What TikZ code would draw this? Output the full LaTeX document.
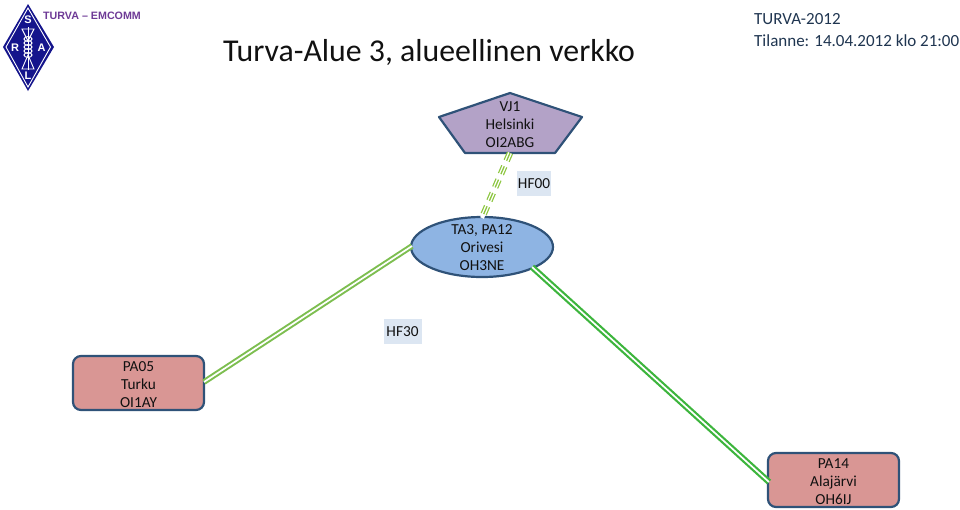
\documentclass[tikz,border=0pt]{standalone}
\usepackage{fontspec}
\setmainfont{Carlito}
\newfontfamily\logofont{Liberation Sans}
\usetikzlibrary{shapes.geometric,calc}
\definecolor{edgeblue}{HTML}{2F5278}
\definecolor{penta}{HTML}{B3A2C7}
\definecolor{ellfill}{HTML}{8EB4E3}
\definecolor{boxfill}{HTML}{D99694}
\definecolor{labelbg}{HTML}{DCE6F2}
\definecolor{linkA}{HTML}{8CC63F}
\definecolor{linkB}{HTML}{7DBE50}
\definecolor{linkC}{HTML}{3DB53D}
\definecolor{logoblue}{HTML}{14148C}
\definecolor{logotext}{HTML}{6E3A96}
\definecolor{txt}{HTML}{111111}
\definecolor{headtxt}{HTML}{1F3550}
\tikzset{
  x=1pt,y=-1pt,
  shapetext/.style={align=center,font=\fontsize{15.3}{18}\selectfont,text=txt,inner sep=0pt},
  outline/.style={draw=edgeblue,line width=2.2pt},
  sitebox/.style={outline,fill=boxfill,rounded corners=8pt,minimum width=131pt,minimum height=54pt},
  freq/.style={fill=labelbg,text height=11pt,text depth=1pt,font=\fontsize{15.3}{18}\selectfont,text=txt,inner sep=0pt,minimum height=25pt},
  logoletter/.style={font=\logofont\bfseries\fontsize{11}{11}\selectfont,text=white,inner sep=0pt},
}
\begin{document}
\begin{tikzpicture}
\useasboundingbox (0,0) rectangle (960,509);
% logo
\coordinate (lt) at (28,4);
\coordinate (lr) at (54,47);
\coordinate (lb) at (28,91);
\coordinate (ll) at (3,47);
\fill[logoblue] (lt) -- (lr) -- (lb) -- (ll) -- cycle;
\draw[white,line width=0.9pt] (28,8) -- (50.5,47) -- (28,87) -- (6,47) -- cycle;
\draw[white,line width=0.9pt] (22,29) -- (34,29) -- (28,41) -- cycle;
\draw[white,line width=0.9pt] (22,69) -- (34,69) -- (28,55) -- cycle;
\draw[white,line width=0.9pt] (28,27) -- (28,70);
\foreach \yy in {39,43,47,51,55} \draw[white,line width=1pt] (28,\yy) ellipse (4pt and 2.4pt);
\node[logoletter] (ls) at (28,20) {S};
\node[logoletter] (lR) at (15,48) {R};
\node[logoletter] (lA) at (41.5,48) {A};
\node[logoletter] (lL) at (28,76) {L};
\node[anchor=west,inner sep=0pt,text=logotext,font=\logofont\bfseries\fontsize{10.7}{12}\selectfont] (org) at (43,16) {TURVA – EMCOMM};
% titles
\node[inner sep=0pt,text=txt,font=\fontsize{31.8}{36}\selectfont,anchor=center] (title) at (429,52) {Turva-Alue 3, alueellinen verkko};
\node[anchor=west,inner sep=0pt,text=headtxt,font=\fontsize{17}{20}\selectfont] (event) at (754,19) {TURVA-2012};
\node[anchor=west,inner sep=0pt,text=headtxt,font=\fontsize{17}{20}\selectfont] (stamp) at (754,41) {Tilanne: 14.04.2012 klo 21:00};
% shapes
\coordinate (p1) at (510,93);
\coordinate (p2) at (582,117);
\coordinate (p3) at (555,153);
\coordinate (p4) at (465,153);
\coordinate (p5) at (439,117);
\coordinate (pb) at (510,153);
\draw[outline,fill=penta,line join=round] (p1) -- (p2) -- (p3) -- (p4) -- (p5) -- cycle;
\node[shapetext] (vj) at (510,125) {VJ1\\Helsinki\\OI2ABG};
\node[ellipse,outline,fill=ellfill,minimum width=142pt,minimum height=60pt,inner sep=0pt] (ta) at (482,247) {};
\node[shapetext] (talabel) at (482,248) {TA3, PA12\\Orivesi\\OH3NE};
\node[sitebox] (pa05) at (138.5,383) {};
\node[shapetext] (pa05label) at (138.5,385) {PA05\\Turku\\OI1AY};
\node[sitebox] (pa14) at (833.5,480) {};
\node[shapetext] (pa14label) at (833.5,482) {PA14\\Alajärvi\\OH6IJ};
% links
\coordinate (tatop) at (482,218);
\coordinate (tal) at (412,246);
\coordinate (tar) at (532,267);
\coordinate (pa05r) at (204,382);
\coordinate (pa14l) at (769,482);
\draw[linkA,line width=6.5pt,dash pattern=on 8.5pt off 6pt] (pb) -- (tatop);
\draw[white,line width=4pt] (pb) -- (tatop);
\draw[linkA,line width=1.3pt,dash pattern=on 8.5pt off 6pt] (pb) -- (tatop);
\draw[linkB,double=white,double distance=1.7pt,line width=2pt] (tal) -- (pa05r);
\draw[linkC,double=white,double distance=1.7pt,line width=2.2pt] (tar) -- (pa14l);
% frequency labels
\node[freq,minimum width=34pt] (hf00) at (534,183.5) {HF00};
\node[freq,minimum width=38pt] (hf30) at (402.5,331) {HF30};
\end{tikzpicture}
\end{document}
